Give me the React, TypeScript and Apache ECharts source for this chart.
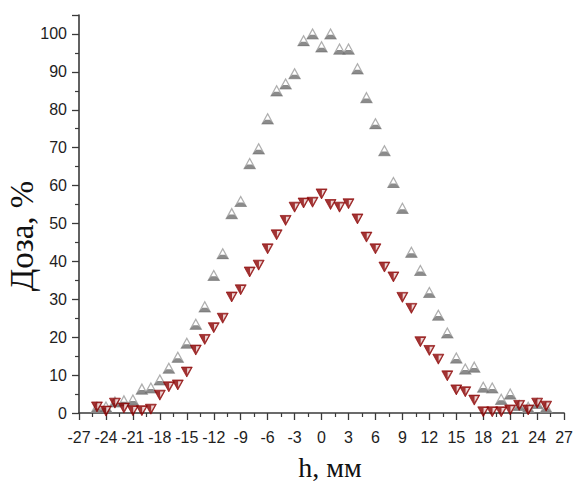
import React, { useEffect, useRef } from "react";
import * as echarts from "echarts";

const hValues = [-25, -24, -23, -22, -21, -20, -19, -18, -17, -16, -15, -14, -13, -12, -11, -10, -9, -8, -7, -6, -5, -4, -3, -2, -1, 0, 1, 2, 3, 4, 5, 6, 7, 8, 9, 10, 11, 12, 13, 14, 15, 16, 17, 18, 19, 20, 21, 22, 23, 24, 25];

const doseGray = [1.5, 1.6, 2.9, 3.2, 3.4, 6.3, 6.6, 8.7, 11.8, 14.7, 18.4, 23.4, 28, 36.3, 42, 52.6, 55.8, 65.8, 69.7, 77.6, 85, 86.8, 89.5, 98.2, 100, 96.6, 100, 96, 96, 90.8, 83.2, 76.3, 69.2, 60.8, 54, 42.4, 37.6, 31.8, 25.8, 21.1, 14.5, 11.6, 12.1, 6.8, 6.6, 3.6, 5, 2, 1.5, 2.5, 1.5];

const doseRed = [1.6, 0.5, 2.6, 1.3, 0.6, 0.6, 1, 4.7, 6.9, 7.4, 10.8, 16.6, 19.4, 22.5, 25, 30.6, 32.5, 37.2, 39, 43.3, 47, 50.8, 54.3, 55.4, 55.6, 57.8, 55, 54.3, 55.2, 51.2, 46.4, 43.3, 38.5, 35.9, 30.5, 27.6, 18.8, 16.5, 14.2, 9.8, 6.1, 5.6, 3.4, 0.3, 0.3, 0.3, 0.8, 2, 0.8, 2.6, 1.8];

const xTitle = "h, мм";
const yTitle = "Доза, %";

export default function App() {
  const ref = useRef<HTMLDivElement>(null);
  useEffect(() => {
    document.body.style.margin = "0";
    if (!ref.current) return;
    const chart = echarts.init(ref.current, null, { renderer: "svg" });
    const grayData = hValues.map((h, i) => [h, doseGray[i]]);
    const redData = hValues.map((h, i) => [h, doseRed[i]]);
    const axisColor = "#3a3a3a";
    const labelFont = { fontFamily: "Liberation Sans", fontSize: 16, color: "#1e1e1e" };
    chart.setOption({
      animation: false,
      backgroundColor: "#fff",
      grid: { left: 79, right: 9, top: 15, bottom: 70, containLabel: false },
      xAxis: {
        type: "value",
        min: -27,
        max: 27,
        interval: 3,
        axisLine: { show: true, onZero: false, lineStyle: { color: axisColor, width: 1.6 } },
        axisTick: { show: true, inside: false, length: 7, lineStyle: { color: axisColor, width: 1.3 } },
        minorTick: { show: true, splitNumber: 2, length: 4, lineStyle: { color: axisColor, width: 1.2 } },
        splitLine: { show: false },
        axisLabel: { ...labelFont, margin: 16 },
      },
      yAxis: {
        type: "value",
        min: 0,
        max: 105,
        interval: 10,
        axisLine: { show: true, onZero: false, lineStyle: { color: axisColor, width: 1.6 } },
        axisTick: { show: true, inside: false, length: 7, lineStyle: { color: axisColor, width: 1.3 } },
        minorTick: { show: true, splitNumber: 2, length: 4, lineStyle: { color: axisColor, width: 1.2 } },
        splitLine: { show: false },
        axisLabel: {
          ...labelFont,
          margin: 12,
          formatter: (v: number) => (v % 10 === 0 ? String(v) : ""),
        },
      },
      graphic: [
        {
          type: "text",
          x: 330,
          y: 467,
          style: {
            text: xTitle,
            font: '28px "Liberation Serif"',
            fill: "#111",
            align: "center",
            verticalAlign: "middle",
          },
        },
        {
          type: "text",
          x: 22,
          y: 236,
          rotation: Math.PI / 2,
          style: {
            text: yTitle,
            font: '33px "Liberation Serif"',
            fill: "#111",
            align: "center",
            verticalAlign: "middle",
          },
        },
      ],
      series: [
        {
          type: "scatter",
          data: grayData,
          symbol: "triangle",
          symbolSize: [11, 10],
          z: 2,
          itemStyle: { color: "#fff", borderColor: "#9a9a9a", borderWidth: 1.2 },
        },
        {
          type: "scatter",
          data: grayData,
          symbol: "path://M3,0 L7,0 L10,4 L0,4 Z",
          symbolSize: [12, 4.2],
          symbolOffset: [0, 3],
          z: 3,
          itemStyle: { color: "#6e6e6e" },
        },
        {
          type: "scatter",
          data: redData,
          symbol: "path://M0,0 L10,0 L5,10 Z",
          symbolSize: [11, 10],
          z: 4,
          itemStyle: { color: "#8b0000", borderColor: "#8b0000", borderWidth: 0.8 },
        },
        {
          type: "scatter",
          data: redData,
          symbol: "path://M0,0 L10,0 L0,10 Z",
          symbolSize: [3.4, 5.8],
          symbolOffset: [2, -0.9],
          z: 5,
          itemStyle: { color: "#fff" },
        },
      ],
    });
    return () => chart.dispose();
  }, []);
  return <div ref={ref} style={{ width: 576, height: 483 }} />;
}
